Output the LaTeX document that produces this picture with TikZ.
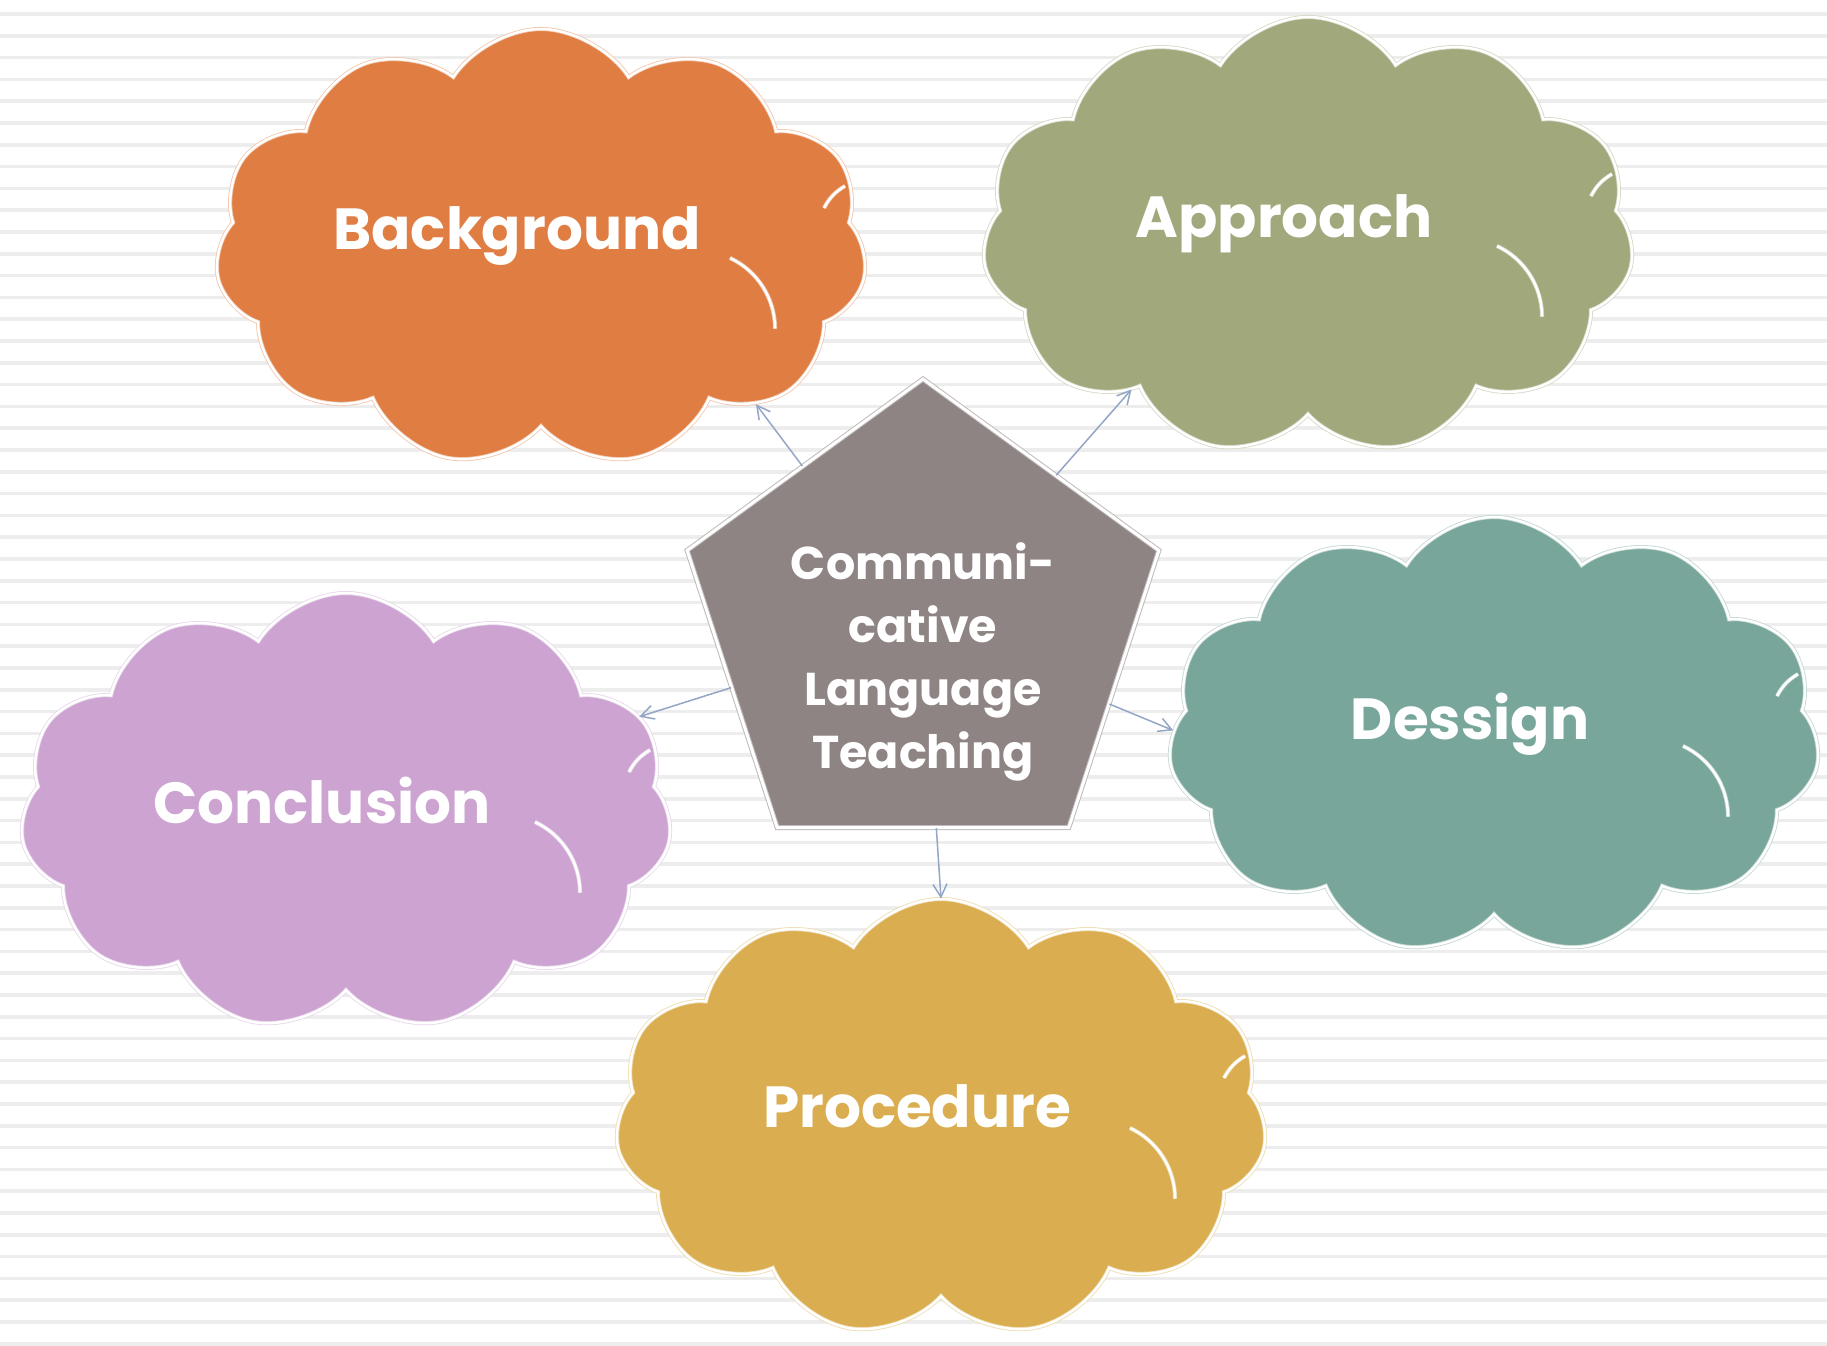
\documentclass[tikz,border=0pt]{standalone}
\usepackage{fontspec}
\setmainfont{Poppins}
\usetikzlibrary{shapes.geometric,shapes.symbols,arrows.meta}
\definecolor{stripecol}{HTML}{EDEDED}
\definecolor{bgorange}{HTML}{E07D42}
\definecolor{apolive}{HTML}{A1A87C}
\definecolor{deteal}{HTML}{78A69B}
\definecolor{colilac}{HTML}{CDA3D2}
\definecolor{prgold}{HTML}{DAAE50}
\definecolor{pentgray}{HTML}{8E8484}
\definecolor{raycol}{HTML}{93A6C6}
\tikzset{
 cloudline/.style={draw=#1!45!white, double=white, double distance=2.5pt, line width=0.8pt},
 cloudbox/.style={cloud, cloud puffs=11, cloud puff arc=115, cloud ignores aspect,
  minimum width=652pt, minimum height=438pt, fill=#1, cloudline=#1},
 cloudtext/.style={text=white, font=\fontsize{58}{60}\selectfont\bfseries,
  xshift=-24pt, yshift=12pt},
 penttext/.style={text=white, text width=320pt, align=center,
  font=\fontsize{46}{63}\selectfont\bfseries, yshift=-35pt},
 ray/.style={draw=raycol, line width=1.5pt, -{Straight Barb[length=13pt,width=14pt]}}
}
\begin{document}
\begin{tikzpicture}[x=1pt,y=-1pt]
 \useasboundingbox[fill=white] (0,0) rectangle (1827,1345);
 \foreach \s in {0,...,61} {
  \draw[stripecol, line width=3.5pt] (0,{14+21.8*\s}) -- (1827,{14+21.8*\s});
 }

 \node[cloudbox=bgorange, label={[cloudtext]center:Background}] (bg) at (541,248) {};
 \node[cloudbox=apolive, label={[cloudtext]center:Approach}] (ap) at (1308,236) {};
 \node[cloudbox=deteal, label={[cloudtext]center:Dessign}] (de) at (1494,736) {};
 \node[cloudbox=colilac, label={[cloudtext]center:Conclusion}] (co) at (346,812) {};
 \node[cloudbox=prgold, label={[cloudtext]center:Procedure}] (pr) at (941,1118) {};
 \foreach \n/\c in {bg/bgorange,ap/apolive,de/deteal,co/colilac,pr/prgold} {
  \draw[cloudline=\c, shift={(\n.center)}] (189,10) arc[start angle=65, end angle=0, radius=78pt];
  \draw[cloudline=\c, shift={(\n.center)}] (283,-40) to[bend left=15] (304,-62);
 }

 \node[regular polygon, regular polygon sides=5, minimum size=496pt, fill=pentgray,
  draw=pentgray!55!white, double=white, double distance=3pt, line width=1pt,
  label={[penttext]center:{Communi-\\cative\\Language\\Teaching}}] (core) at (923,627) {};

 \draw[ray] (core) -- (bg.-36);
 \draw[ray] (core) -- (ap.-139);
 \draw[ray] (core) -- (de.179);
 \draw[ray] (core) -- (co.18);
 \draw[ray] (core) -- (pr.90);
\end{tikzpicture}
\end{document}
